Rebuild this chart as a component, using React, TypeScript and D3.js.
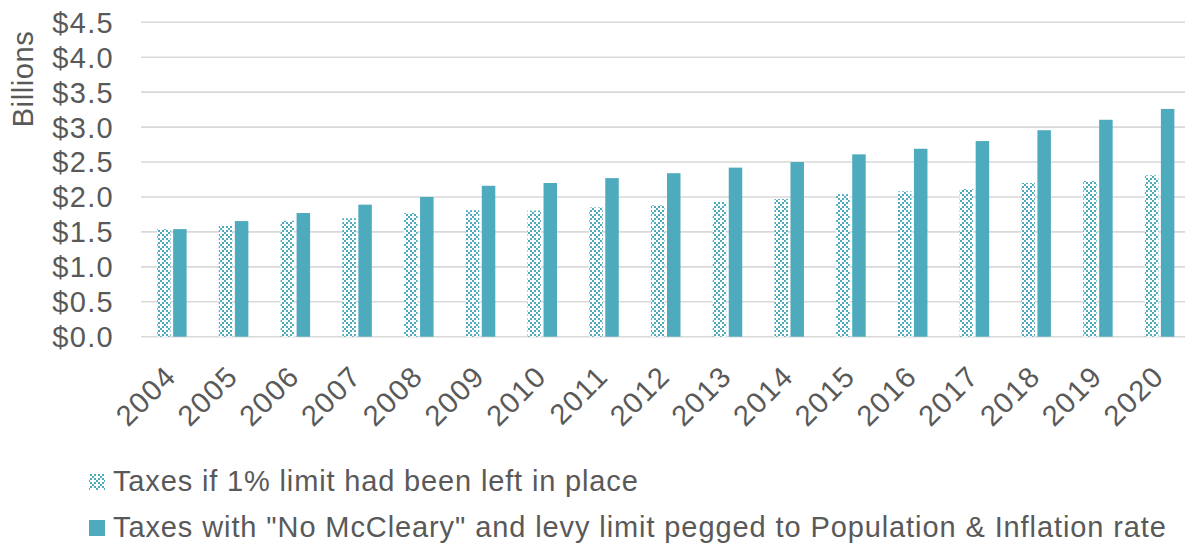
import React from "react";
import * as d3 from "d3";

const years = [
  "2004", "2005", "2006", "2007", "2008", "2009", "2010", "2011", "2012",
  "2013", "2014", "2015", "2016", "2017", "2018", "2019", "2020",
];

// Taxes if 1% limit had been left in place ($ billions)
const onePercentLimit = [
  1.54, 1.585, 1.66, 1.695, 1.77, 1.81, 1.805, 1.85, 1.88,
  1.93, 1.97, 2.04, 2.08, 2.115, 2.2, 2.23, 2.31,
];

// Taxes with "No McCleary" and levy limit pegged to Population & Inflation rate ($ billions)
const popInflation = [
  1.54, 1.655, 1.77, 1.89, 2.0, 2.16, 2.2, 2.27, 2.34,
  2.42, 2.5, 2.61, 2.69, 2.8, 2.955, 3.105, 3.26,
];

const yTicks = [0, 0.5, 1, 1.5, 2, 2.5, 3, 3.5, 4, 4.5];

const seriesNames = [
  "Taxes if 1% limit had been left in place",
  'Taxes with "No McCleary" and levy limit pegged to Population & Inflation rate',
];

const W = 1185;
const H = 544;
const TEAL = "#4EABBE";
const TEXT = "#595959";
const GRID = "#D9D9D9";
const FONT = "'Liberation Sans', Arial, sans-serif";

export default function App() {
  const x = d3.scaleBand<string>().domain(years).range([141, 1190.5]);
  const y = d3.scaleLinear().domain([0, 4.5]).range([336.7, 22.3]);
  const fmt = (v: number) => "$" + d3.format(".1f")(v);

  const barW = 13.5;
  const gap = 2.5;

  return (
    <svg
      width={W}
      height={H}
      style={{ position: "absolute", left: 0, top: 0, background: "#fff" }}
      fontFamily={FONT}
    >
      <defs>
        <pattern id="confetti" width={8} height={8} patternUnits="userSpaceOnUse">
          <rect width={8} height={8} fill="#fff" />
          <rect x={0} y={0} width={2} height={2} fill={TEAL} />
          <rect x={2} y={2} width={2} height={2} fill={TEAL} />
          <rect x={4} y={4} width={2} height={2} fill={TEAL} />
          <rect x={6} y={2} width={2} height={2} fill={TEAL} />
          <rect x={2} y={6} width={2} height={2} fill={TEAL} />
          <rect x={6} y={6} width={2} height={2} fill={TEAL} />
        </pattern>
      </defs>

      {/* horizontal gridlines */}
      {yTicks.map((t) => (
        <line
          key={t}
          x1={141}
          x2={W}
          y1={y(t)}
          y2={y(t)}
          stroke={GRID}
          strokeWidth={1.6}
        />
      ))}

      {/* y-axis tick labels */}
      {yTicks.map((t) => (
        <text
          key={"l" + t}
          x={114}
          y={y(t)}
          dy="0.36em"
          textAnchor="end"
          fontSize={29}
          letterSpacing={1.3}
          fill={TEXT}
        >
          {fmt(t)}
        </text>
      ))}

      <text
        transform={`translate(33,79) rotate(-90)`}
        textAnchor="middle"
        fontSize={29}
        letterSpacing={0.6}
        fill={TEXT}
      >
        Billions
      </text>

      {/* bars */}
      {years.map((yr, i) => {
        const cx = (x(yr) as number) + x.bandwidth() / 2;
        const x0 = cx - gap / 2 - barW;
        const x1 = cx + gap / 2;
        return (
          <g key={yr}>
            <rect
              x={x0}
              y={y(onePercentLimit[i])}
              width={barW}
              height={y(0) - y(onePercentLimit[i])}
              fill="url(#confetti)"
            />
            <rect
              x={x1}
              y={y(popInflation[i])}
              width={barW}
              height={y(0) - y(popInflation[i])}
              fill={TEAL}
            />
          </g>
        );
      })}

      {/* x-axis tick labels */}
      {years.map((yr) => {
        const cx = (x(yr) as number) + x.bandwidth() / 2;
        return (
          <text
            key={"x" + yr}
            transform={`translate(${cx + 6},378) rotate(-45)`}
            textAnchor="end"
            fontSize={29}
            letterSpacing={1.5}
            fill={TEXT}
          >
            {yr}
          </text>
        );
      })}

      {/* legend */}
      <rect x={89} y={474} width={16} height={16} fill="url(#confetti)" />
      <text x={113} y={491} fontSize={29} letterSpacing={0.85} fill={TEXT}>
        {seriesNames[0]}
      </text>
      <rect x={89} y={520} width={16} height={16} fill={TEAL} />
      <text x={113} y={537} fontSize={29} letterSpacing={0.9} fill={TEXT}>
        {seriesNames[1]}
      </text>
    </svg>
  );
}
